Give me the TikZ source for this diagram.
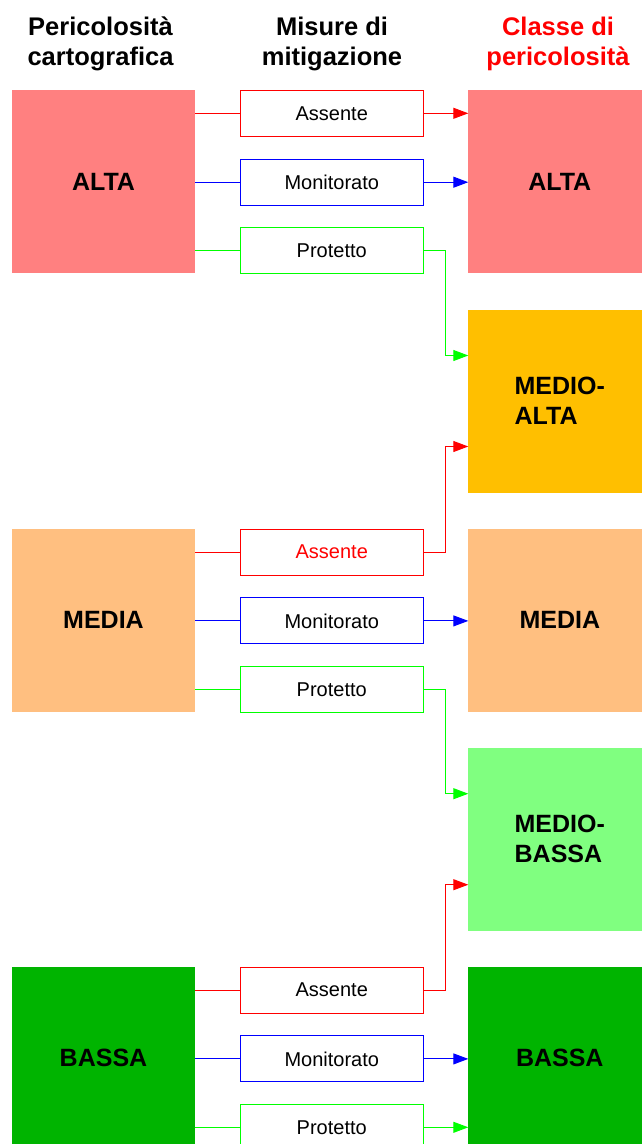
\documentclass[tikz,border=0pt]{standalone}
\usepackage{fontspec}
\setmainfont{Liberation Sans}
\usetikzlibrary{arrows.meta,calc}
\definecolor{cAlta}{HTML}{FF8080}
\definecolor{cMedioAlta}{HTML}{FFBF00}
\definecolor{cMedia}{HTML}{FFBF80}
\definecolor{cMedioBassa}{HTML}{80FF80}
\definecolor{cBassa}{HTML}{00B400}
\definecolor{lRed}{HTML}{FF0000}
\definecolor{lBlue}{HTML}{0000FF}
\definecolor{lGreen}{HTML}{00FF00}
\begin{document}
\begin{tikzpicture}[x=1pt,y=-1pt,
  hdr/.style={font=\bfseries\fontsize{25.5}{30}\selectfont, align=center, inner sep=0pt},
  lvl/.style={minimum width=183pt, minimum height=183pt, inner sep=0pt, outer sep=0pt,
    anchor=north west, font=\bfseries\fontsize{25}{30}\selectfont, align=left},
  mis/.style={draw, line width=1pt, minimum width=183.5pt, minimum height=46pt,
    inner sep=0pt, outer sep=0pt, anchor=north west, font=\fontsize{20}{24}\selectfont},
  conn/.style={line width=1pt},
  arr/.style={conn, -{Triangle[length=15pt,width=11pt]}},
]
\useasboundingbox (0,0) rectangle (642,1144);
\clip (0,0) rectangle (642,1144);

% headers
\node[hdr] (h1) at (100.5,44) {Pericolosità\\cartografica};
\node[hdr] (h2) at (332,44) {Misure di\\mitigazione};
\node[hdr, text=lRed] (h3) at (558,44) {Classe di\\pericolosità};

% left: cartographic hazard
\node[lvl, fill=cAlta] (lA) at (12,90) {ALTA};
\node[lvl, fill=cMedia] (lM) at (12,528.7) {MEDIA};
\node[lvl, fill=cBassa] (lB) at (12,966.7) {BASSA};

% right: hazard class
\node[lvl, fill=cAlta] (rA) at (468.3,90) {ALTA};
\node[lvl, fill=cMedioAlta] (rMA) at (468.3,309.5) {MEDIO-\\ALTA};
\node[lvl, fill=cMedia] (rM) at (468.3,528.7) {MEDIA};
\node[lvl, fill=cMedioBassa] (rMB) at (468.3,747.7) {MEDIO-\\BASSA};
\node[lvl, fill=cBassa] (rB) at (468.3,966.7) {BASSA};

% middle: mitigation measures
\node[mis, draw=lRed] (mA1) at (240,90.3) {Assente};
\node[mis, draw=lBlue] (mM1) at (240,159.2) {Monitorato};
\node[mis, draw=lGreen] (mP1) at (240,227.6) {Protetto};
\node[mis, draw=lRed, text=lRed] (mA2) at (240,529) {Assente};
\node[mis, draw=lBlue] (mM2) at (240,597.9) {Monitorato};
\node[mis, draw=lGreen] (mP2) at (240,666.3) {Protetto};
\node[mis, draw=lRed] (mA3) at (240,967) {Assente};
\node[mis, draw=lBlue] (mM3) at (240,1035.9) {Monitorato};
\node[mis, draw=lGreen] (mP3) at (240,1104.3) {Protetto};

\coordinate (tMAg) at ($(rMA.west)+(0,-45.5)$);
\coordinate (tMAr) at ($(rMA.west)+(0,45.5)$);
\coordinate (tMBg) at ($(rMB.west)+(0,-45.5)$);
\coordinate (tMBr) at ($(rMB.west)+(0,45.5)$);

% ALTA group
\draw[conn, lRed] (lA.east |- mA1) -- (mA1);
\draw[arr, lRed] (mA1) -- (rA.west |- mA1);
\draw[conn, lBlue] (lA.east |- mM1) -- (mM1);
\draw[arr, lBlue] (mM1) -- (rA.west |- mM1);
\draw[conn, lGreen] (lA.east |- mP1) -- (mP1);
\draw[arr, lGreen] (mP1) -- ($(mP1.east)+(22.3,0)$) |- (tMAg);

% MEDIA group
\draw[conn, lRed] (lM.east |- mA2) -- (mA2);
\draw[arr, lRed] (mA2) -- ($(mA2.east)+(22.3,0)$) |- (tMAr);
\draw[conn, lBlue] (lM.east |- mM2) -- (mM2);
\draw[arr, lBlue] (mM2) -- (rM.west |- mM2);
\draw[conn, lGreen] (lM.east |- mP2) -- (mP2);
\draw[arr, lGreen] (mP2) -- ($(mP2.east)+(22.3,0)$) |- (tMBg);

% BASSA group
\draw[conn, lRed] (lB.east |- mA3) -- (mA3);
\draw[arr, lRed] (mA3) -- ($(mA3.east)+(22.3,0)$) |- (tMBr);
\draw[conn, lBlue] (lB.east |- mM3) -- (mM3);
\draw[arr, lBlue] (mM3) -- (rB.west |- mM3);
\draw[conn, lGreen] (lB.east |- mP3) -- (mP3);
\draw[arr, lGreen] (mP3) -- (rB.west |- mP3);
\end{tikzpicture}
\end{document}
